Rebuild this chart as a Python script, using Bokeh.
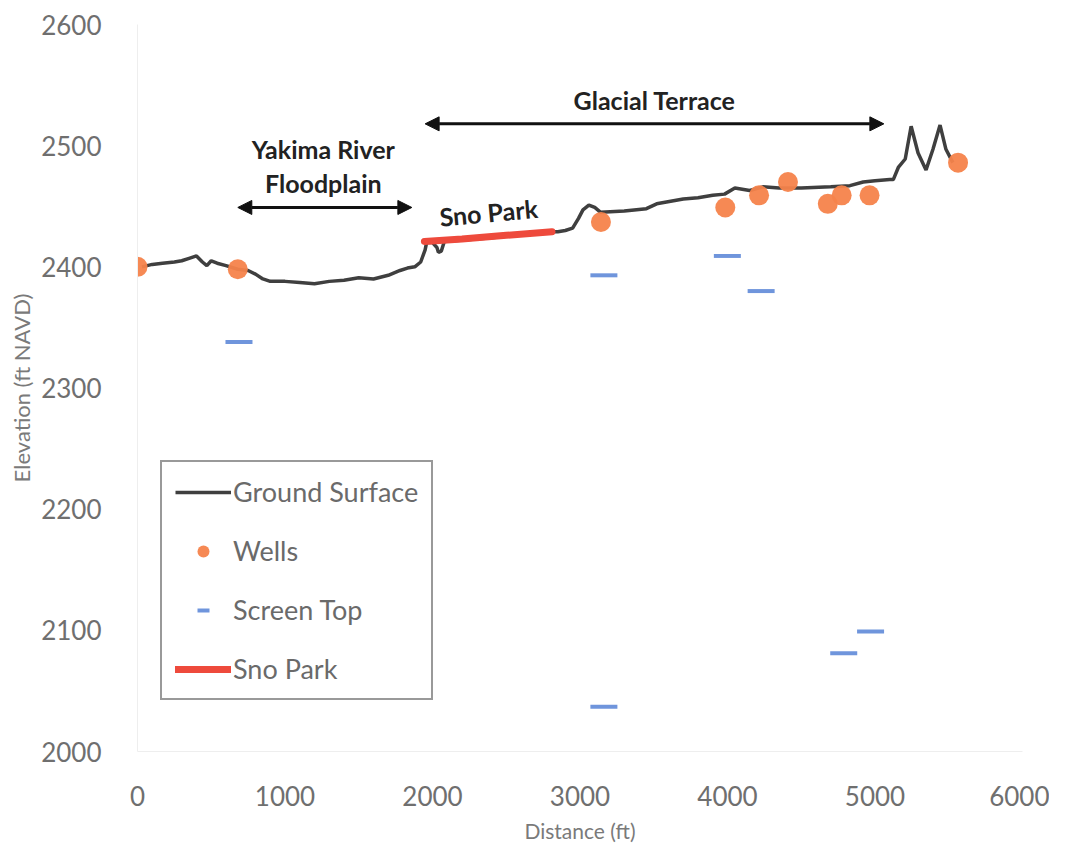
from bokeh.plotting import figure
from bokeh.models import (FixedTicker, Legend, LegendItem, Arrow, NormalHead, Label)
from bokeh.embed import file_html
from bokeh.resources import INLINE

# ---- data ----
ground_x = [30, 100, 170, 250, 300, 350, 400, 440, 470, 500, 540, 600, 680, 750, 800, 850, 900,
            1000, 1100, 1200, 1300, 1400, 1500, 1600, 1700, 1780, 1830, 1880, 1920, 1950, 1960,
            2000, 2030, 2040, 2060, 2070, 2080, 2400, 2800, 2850, 2900, 2950, 2990, 3020, 3060,
            3100, 3140, 3300, 3450, 3520, 3700, 3800, 3900, 3980, 4050, 4150, 4240, 4350, 4500,
            4700, 4830, 4920, 5000, 5100, 5124, 5158, 5205, 5245, 5292, 5346, 5393, 5441, 5481, 5528]
ground_y = [2400, 2402, 2403, 2404, 2405, 2407, 2409, 2404, 2401, 2405, 2403, 2401, 2398, 2397, 2394,
            2390, 2388, 2388, 2387, 2386, 2388, 2389, 2391, 2390, 2393, 2397, 2399, 2400, 2404, 2414,
            2420, 2420, 2416, 2412, 2413, 2417, 2421, 2424, 2429, 2429, 2430, 2432, 2440, 2447, 2451,
            2449, 2445, 2446, 2448, 2452, 2456, 2457, 2459, 2460, 2465, 2463, 2466, 2465, 2465,
            2466, 2467, 2470, 2471, 2472, 2472, 2482, 2489, 2516, 2494, 2480, 2497, 2517, 2497, 2486]

wells_x = [0, 680, 3142, 3985, 4214, 4410, 4680, 4774, 4963, 5563]
wells_y = [2400, 2398, 2437, 2449, 2459, 2470, 2452, 2459, 2459, 2486]

screen_x = [688, 3162, 3999, 4228, 3162, 4788, 4970]
screen_y = [2338, 2393, 2409, 2380, 2037, 2081, 2099]

snopark_x = [1945, 2200, 2500, 2810]
snopark_y = [2421, 2423, 2426, 2429]

x_ticks = [0, 1000, 2000, 3000, 4000, 5000, 6000]
y_ticks = [2000, 2100, 2200, 2300, 2400, 2500, 2600]

FONT = "Lato"
TICK_COLOR = "#6f6f6f"

p = figure(frame_width=885, frame_height=727, x_range=(0, 6000), y_range=(2000, 2600),
           min_border_left=137, min_border_top=24, min_border_right=27, min_border_bottom=80,
           output_backend="svg", toolbar_location=None, outline_line_color=None,
           background_fill_color="white", border_fill_color="white")

p.xgrid.grid_line_color = None
p.ygrid.grid_line_color = None

for ax in (p.xaxis, p.yaxis):
    ax.axis_line_color = "#eeeeee"
    ax.major_tick_line_color = None
    ax.minor_tick_line_color = None
    ax.major_label_text_font = FONT
    ax.major_label_text_font_size = "26px"
    ax.major_label_text_color = TICK_COLOR
    ax.axis_label_text_font = FONT
    ax.axis_label_text_font_style = "normal"
    ax.axis_label_text_color = "#7a7a7a"

p.xaxis.axis_label_text_font_size = "21px"
p.yaxis.axis_label_text_font_size = "22px"
p.xaxis.ticker = FixedTicker(ticks=x_ticks)
p.yaxis.ticker = FixedTicker(ticks=y_ticks)
p.xaxis.axis_label = "Distance (ft)"
p.yaxis.axis_label = "Elevation (ft NAVD)"
p.xaxis.major_label_standoff = 28
p.yaxis.major_label_standoff = 30
p.xaxis.axis_label_standoff = 9
p.yaxis.axis_label_standoff = 3

r_ground = p.line(ground_x, ground_y, line_color="#3f3f3f", line_width=3.5)
r_sno = p.line(snopark_x, snopark_y, line_color="#ee4a3c", line_width=7, line_cap="round")
r_wells = p.scatter(wells_x, wells_y, marker="circle", size=20, fill_color="#f5834b",
                    line_color=None, fill_alpha=0.95)
r_screen = p.scatter(screen_x, screen_y, marker="dash", size=27, line_color="#6f95dc",
                     line_width=4)

# arrows
head = dict(size=14, fill_color="#111111", line_color="#111111")
p.add_layout(Arrow(start=NormalHead(**head), end=NormalHead(**head),
                   x_start=680, y_start=2449, x_end=1860, y_end=2449,
                   line_width=3, line_color="#111111"))
p.add_layout(Arrow(start=NormalHead(**head), end=NormalHead(**head),
                   x_start=1950, y_start=2518, x_end=5060, y_end=2518,
                   line_width=3, line_color="#111111"))

lab = dict(text_font=FONT, text_font_size="25px", text_font_style="bold",
           text_color="#222222", text_align="center", text_baseline="middle")
p.add_layout(Label(x=3506, y=2538, text="Glacial Terrace", **lab))
p.add_layout(Label(x=1260, y=2497, text="Yakima River", **lab))
p.add_layout(Label(x=1260, y=2469, text="Floodplain", **lab))
p.add_layout(Label(x=2380, y=2445, text="Sno Park", angle=0.09, **lab))

legend = Legend(items=[
    LegendItem(label="Ground Surface", renderers=[r_ground]),
    LegendItem(label="Wells", renderers=[r_wells]),
    LegendItem(label="Screen Top", renderers=[r_screen]),
    LegendItem(label="Sno Park", renderers=[r_sno]),
], location=(23, 51))
legend.label_text_font = FONT
legend.label_text_font_size = "27px"
legend.label_text_color = "#6a6a6a"
legend.border_line_color = "#333333"
legend.border_line_width = 2
legend.background_fill_color = "white"
legend.glyph_width = 56
legend.glyph_height = 30
legend.label_height = 30
legend.label_standoff = 2
legend.spacing = 26
legend.padding = 13
legend.margin = 0
p.add_layout(legend)

open("out.html", "w").write(file_html(p, INLINE))
